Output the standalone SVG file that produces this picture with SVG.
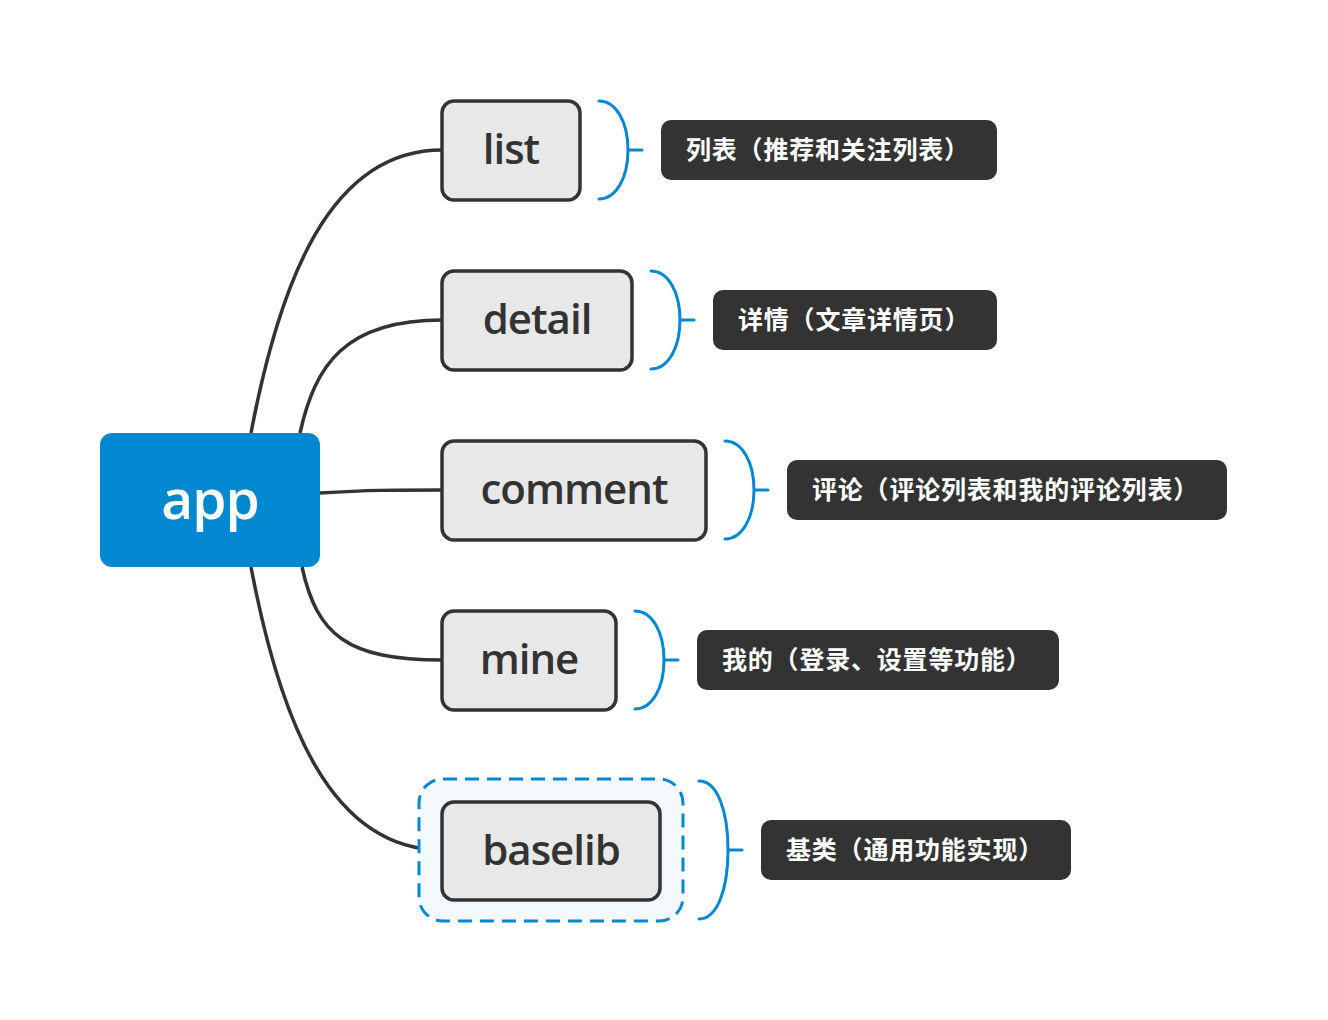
<svg xmlns="http://www.w3.org/2000/svg" width="1328" height="1020" viewBox="0 0 1328 1020">
<style>
.conn{fill:none;stroke:#333333;stroke-width:3.5}
.brace{fill:none;stroke:#0288D1;stroke-width:3;stroke-linecap:round}
.node rect{fill:#E8E8E8;stroke:#333333;stroke-width:3.5}
.ntext{font-family:"Open Sans","Noto Sans",sans-serif;font-weight:600;font-size:42px;letter-spacing:-1px;fill:#333333;text-anchor:middle}
.lrect{fill:#333333}
.ltext{font-family:"Noto Sans CJK SC","Noto Sans",sans-serif;font-weight:700;font-size:25px;letter-spacing:0.8px;fill:#FFFFFF}
</style>
<rect width="1328" height="1020" fill="#FFFFFF"/>
<g id="connectors">
<path class="conn" d="M251,433 C280,280 330,150 442,150"/>
<path class="conn" d="M300,433 C315,365 345,320 442,320"/>
<path class="conn" d="M320,493 C370,490 390,490 442,490"/>
<path class="conn" d="M302,567 C317,635 347,660 442,660"/>
<path class="conn" d="M251,567 C280,720 330,850 442,850"/>
</g>
<g id="app">
<rect x="100" y="433" width="220" height="134" rx="12" fill="#0288D1"/>
<text x="210" y="519" font-family="'Open Sans','Noto Sans',sans-serif" font-weight="600" font-size="55" letter-spacing="-1" fill="#FFFFFF" text-anchor="middle">app</text>
</g>
<g id="list" class="node">
<rect x="442" y="101" width="138" height="99" rx="12"/>
<text class="ntext" x="511" y="164">list</text>
</g>
<g id="detail" class="node">
<rect x="442" y="271" width="190" height="99" rx="12"/>
<text class="ntext" x="537" y="334">detail</text>
</g>
<g id="comment" class="node">
<rect x="442" y="441" width="264" height="99" rx="12"/>
<text class="ntext" x="574" y="504">comment</text>
</g>
<g id="mine" class="node">
<rect x="442" y="611" width="174" height="99" rx="12"/>
<text class="ntext" x="529" y="674">mine</text>
</g>
<g id="baselib-boundary">
<rect x="419" y="779" width="264" height="142" rx="24" fill="#F4F9FD" stroke="#0288D1" stroke-width="3" stroke-dasharray="14 8"/>
</g>
<g id="baselib" class="node">
<rect x="442" y="802" width="218" height="98" rx="12"/>
<text class="ntext" x="551" y="865">baselib</text>
</g>
<g id="braces">
<path class="brace" d="M599,101 C616,101 628,122 628,150 C628,178 616,199 599,199 M628,150 H642"/>
<path class="brace" d="M651,271 C668,271 680,292 680,320 C680,348 668,369 651,369 M680,320 H694"/>
<path class="brace" d="M725,441 C742,441 754,462 754,490 C754,518 742,539 725,539 M754,490 H768"/>
<path class="brace" d="M635,611 C652,611 664,632 664,660 C664,688 652,709 635,709 M664,660 H678"/>
<path class="brace" d="M699,781 C717,781 728,810 728,850 C728,890 717,919 699,919 M728,850 H742"/>
</g>
<g id="label-list">
<rect class="lrect" x="661" y="120" width="336" height="60" rx="10"/>
<text class="ltext" x="686" y="159">列表（推荐和关注列表）</text>
</g>
<g id="label-detail">
<rect class="lrect" x="713" y="290" width="284" height="60" rx="10"/>
<text class="ltext" x="738" y="329">详情（文章详情页）</text>
</g>
<g id="label-comment">
<rect class="lrect" x="787" y="460" width="440" height="60" rx="10"/>
<text class="ltext" x="812" y="499">评论（评论列表和我的评论列表）</text>
</g>
<g id="label-mine">
<rect class="lrect" x="697" y="630" width="362" height="60" rx="10"/>
<text class="ltext" x="722" y="669">我的（登录、设置等功能）</text>
</g>
<g id="label-baselib">
<rect class="lrect" x="761" y="820" width="310" height="60" rx="10"/>
<text class="ltext" x="786" y="859">基类（通用功能实现）</text>
</g>
</svg>
